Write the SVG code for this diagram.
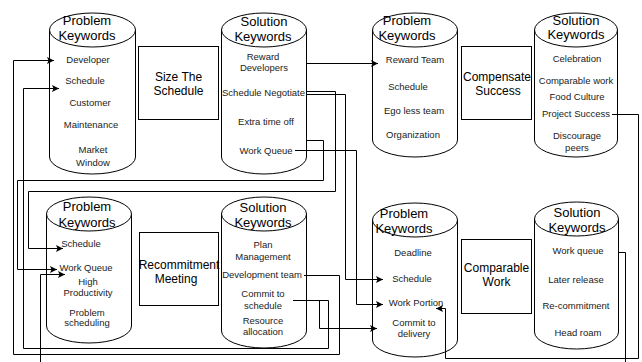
<svg xmlns="http://www.w3.org/2000/svg" width="642" height="362" viewBox="0 0 642 362">
<style>
.shape{fill:#fff;stroke:#000;stroke-width:1}
.hd{font-family:"Liberation Sans",Arial,sans-serif;font-size:13px;fill:#000;text-anchor:middle}
.it{font-family:"Liberation Sans",Arial,sans-serif;font-size:9.5px;fill:#222;text-anchor:middle}
.bx{font-family:"Liberation Sans",Arial,sans-serif;font-size:12px;fill:#000;text-anchor:middle}
.ln{fill:none;stroke:#000;stroke-width:1;marker-end:url(#arr)}
</style>
<defs>
<marker id="arr" markerUnits="userSpaceOnUse" markerWidth="8" markerHeight="8" refX="7" refY="3.5" orient="auto">
<path d="M0,0 L7,3.5 L0,7 L1.5,3.5 z" fill="#000"/>
</marker>
</defs>
<rect width="642" height="362" fill="#fff"/>

<g id="cyl-problem-1">
<path class="shape" d="M49.5,30 V157 A43,17 0 0 0 135.5,157 V30"/>
<ellipse class="shape" cx="92.5" cy="30" rx="43" ry="17"/>
<text class="hd" x="87" y="25">Problem</text>
<text class="hd" x="87" y="39.5">Keywords</text>
<text class="it" x="88" y="63.4">Developer</text>
<text class="it" x="85" y="84.4">Schedule</text>
<text class="it" x="90" y="106.4">Customer</text>
<text class="it" x="91" y="128.4">Maintenance</text>
<text class="it" x="93" y="153.4">Market</text>
<text class="it" x="93" y="166.4">Window</text>
</g>

<g id="box-size">
<rect class="shape" x="138.5" y="46.5" width="80" height="73"/>
<text class="bx" x="178.5" y="81.2">Size The</text>
<text class="bx" x="178.5" y="95.2">Schedule</text>
</g>

<g id="cyl-solution-1">
<path class="shape" d="M221.5,30 V157 A42.5,17 0 0 0 306.5,157 V30"/>
<ellipse class="shape" cx="264" cy="30" rx="42.5" ry="17"/>
<text class="hd" x="264" y="26">Solution</text>
<text class="hd" x="263" y="40.5">Keywords</text>
<text class="it" x="263" y="60.4">Reward</text>
<text class="it" x="264" y="71.4">Developers</text>
<text class="it" x="263.5" y="96.4">Schedule Negotiate</text>
<text class="it" x="266" y="125.4">Extra time off</text>
<text class="it" x="266" y="154.4">Work Queue</text>
</g>

<g id="cyl-problem-2">
<path class="shape" d="M372.5,30 V140 A42.5,17 0 0 0 457.5,140 V30"/>
<ellipse class="shape" cx="415" cy="30" rx="42.5" ry="17"/>
<text class="hd" x="407" y="25">Problem</text>
<text class="hd" x="407" y="39.5">Keywords</text>
<text class="it" x="415" y="63.4">Reward Team</text>
<text class="it" x="408" y="90.4">Schedule</text>
<text class="it" x="414" y="114.4">Ego less team</text>
<text class="it" x="413" y="138.4">Organization</text>
</g>

<g id="box-compensate">
<rect class="shape" x="461.5" y="46.5" width="70" height="73"/>
<text class="bx" x="497" y="81.2">Compensate</text>
<text class="bx" x="498" y="95.2">Success</text>
</g>

<g id="cyl-solution-2">
<path class="shape" d="M534.5,30 V140 A41.5,17 0 0 0 617.5,140 V30"/>
<ellipse class="shape" cx="576" cy="30" rx="41.5" ry="17"/>
<text class="hd" x="576" y="24.5">Solution</text>
<text class="hd" x="576" y="39">Keywords</text>
<text class="it" x="577" y="62.4">Celebration</text>
<text class="it" x="576" y="84.4">Comparable work</text>
<text class="it" x="577" y="100.4">Food Culture</text>
<text class="it" x="576" y="117.4">Project Success</text>
<text class="it" x="577" y="139.4">Discourage</text>
<text class="it" x="577" y="151.4">peers</text>
</g>

<g id="cyl-problem-3">
<path class="shape" d="M46.5,214 V326 A42.5,17 0 0 0 131.5,326 V214"/>
<ellipse class="shape" cx="89" cy="214" rx="42.5" ry="17"/>
<text class="hd" x="87" y="210.5">Problem</text>
<text class="hd" x="87" y="226.5">Keywords</text>
<text class="it" x="81" y="247.4">Schedule</text>
<text class="it" x="86" y="271.4">Work Queue</text>
<text class="it" x="88" y="285.4">High</text>
<text class="it" x="88" y="296.4">Productivity</text>
<text class="it" x="87" y="316.4">Problem</text>
<text class="it" x="87" y="326.4">scheduling</text>
</g>

<g id="box-recommitment">
<rect class="shape" x="139.5" y="232.5" width="79" height="73"/>
<text class="bx" x="179" y="269.2">Recommitment</text>
<text class="bx" x="176" y="283.2">Meeting</text>
</g>

<g id="cyl-solution-3">
<path class="shape" d="M221.5,214 V331 A42.5,17 0 0 0 306.5,331 V214"/>
<ellipse class="shape" cx="264" cy="214" rx="42.5" ry="17"/>
<text class="hd" x="263" y="211.5">Solution</text>
<text class="hd" x="263" y="226.5">Keywords</text>
<text class="it" x="263" y="248.4">Plan</text>
<text class="it" x="263" y="260.4">Management</text>
<text class="it" x="262" y="278.4">Development team</text>
<text class="it" x="263" y="297.4">Commit to</text>
<text class="it" x="263" y="309.4">schedule</text>
<text class="it" x="263" y="324.4">Resource</text>
<text class="it" x="263" y="335.4">allocation</text>
</g>

<g id="cyl-problem-4">
<path class="shape" d="M372.5,220 V340 A42.5,17 0 0 0 457.5,340 V220"/>
<ellipse class="shape" cx="415" cy="220" rx="42.5" ry="17"/>
<text class="hd" x="404" y="217.5">Problem</text>
<text class="hd" x="404" y="232.5">Keywords</text>
<text class="it" x="413" y="256.4">Deadline</text>
<text class="it" x="412" y="282.4">Schedule</text>
<text class="it" x="416" y="306.4">Work Portion</text>
<text class="it" x="414" y="326.4">Commit to</text>
<text class="it" x="414" y="337.4">delivery</text>
</g>

<g id="box-comparable">
<rect class="shape" x="461.5" y="239.5" width="70" height="74"/>
<text class="bx" x="496.5" y="272.2">Comparable</text>
<text class="bx" x="496.5" y="286.2">Work</text>
</g>

<g id="cyl-solution-4">
<path class="shape" d="M534.5,219 V332 A42,17 0 0 0 618.5,332 V219"/>
<ellipse class="shape" cx="576.5" cy="219" rx="42" ry="17"/>
<text class="hd" x="577" y="217">Solution</text>
<text class="hd" x="577" y="231.5">Keywords</text>
<text class="it" x="578" y="254.4">Work queue</text>
<text class="it" x="576" y="283.4">Later release</text>
<text class="it" x="576" y="309.4">Re-commitment</text>
<text class="it" x="578" y="336.4">Head roam</text>
</g>

<g id="connectors">
<path class="ln" d="M306,63.5 H378"/>
<path class="ln" d="M304,275.5 H339.5 V354.5 H13.5 V60.5 H54"/>
<path class="ln" d="M293,300.5 H328.5 V348.5 H23.5 V88.5 H59"/>
<path class="ln" d="M319.5,300.5 V328.5 H377"/>
<path class="ln" d="M306,91.5 H335.5 V191.5 H28.5 V248.5 H63"/>
<path class="ln" d="M306,94.5 H345.5 V279.5 H383"/>
<path class="ln" d="M295,150.5 H356.5 V304.5 H383"/>
<path class="ln" d="M306,140.5 H323.5 V180.5 H17.5 V269.5 H57"/>
<path class="ln" d="M612,114.5 H638.5 V358.5 H445.5 V308.5 H436"/>
<path class="ln" d="M618,252.5 H625.5 V370 H40.5 V274.5 H65"/>
</g>
</svg>
